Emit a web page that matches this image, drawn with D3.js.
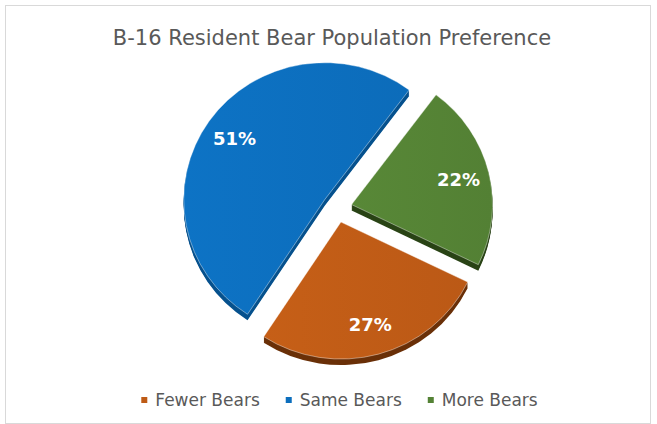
<!DOCTYPE html>
<html><head><meta charset="utf-8">
<script src="https://cdn.jsdelivr.net/npm/d3@7"></script>
<style>body{margin:0;background:#fff}</style></head><body>
<svg id="c" width="657" height="424"></svg>
<script>
const categories = ["Fewer Bears", "Same Bears", "More Bears"];
const values = [27, 51, 22];
const labels = ["27%", "51%", "22%"];
const colors = ["#BE5B16", "#0C6EBD", "#548235"];
const sideColors = ["#6a3008", "#07528e", "#2a4416"];
const title = "B-16 Resident Bear Population Preference";

const svg = d3.select("#c");
svg.append("rect").attr("x", 5.5).attr("y", 5.5).attr("width", 645).attr("height", 418)
  .attr("fill", "#fff").attr("stroke", "#d9d9d9").attr("stroke-width", 1);

svg.append("text").attr("x", 332).attr("y", 45).attr("text-anchor", "middle")
  .attr("font-family", "'DejaVu Sans'").attr("font-size", 21).attr("fill", "#595959")
  .text(title);

const rx = 141, ry = 137, cx = 337, cy = 208, explode = 15, depth = 6;
const k = ry / rx;
const startDeg = 116;
const toRad = Math.PI / 180;
const pie = d3.pie().sort(null).startAngle(startDeg * toRad).endAngle((startDeg + 360) * toRad);
const arcs = pie(values);
const arc = d3.arc().innerRadius(0).outerRadius(rx);

const defs = svg.append("defs");
arcs.forEach((a, i) => {
  const gr = defs.append("linearGradient").attr("id", "g" + i).attr("x1", "0").attr("x2", "1").attr("y1", "0").attr("y2", "0");
  const c = d3.color(colors[i]);
  gr.append("stop").attr("offset", "0").attr("stop-color", c.brighter(0.12));
  gr.append("stop").attr("offset", "1").attr("stop-color", c.darker(0.05));
});

function offset(a) {
  const mid = (a.startAngle + a.endAngle) / 2;
  return [explode * Math.sin(mid), -explode * Math.cos(mid) * k];
}

const sides = svg.append("g");
arcs.forEach((a, i) => {
  const [ox, oy] = offset(a);
  for (let d = depth; d >= 1; d--) {
    sides.append("path").attr("d", arc(a))
      .attr("transform", `translate(${cx + ox},${cy + oy + d}) scale(1,${k})`)
      .attr("fill", sideColors[i]);
  }
});

const faces = svg.append("g");
arcs.forEach((a, i) => {
  const [ox, oy] = offset(a);
  faces.append("path").attr("d", arc(a))
    .attr("transform", `translate(${cx + ox},${cy + oy}) scale(1,${k})`)
    .attr("fill", `url(#g${i})`)
    .attr("stroke", "rgba(255,255,255,0.45)").attr("stroke-width", 0.9)
    .attr("vector-effect", "non-scaling-stroke");
});

const labelR = 0.78 * rx;
arcs.forEach((a, i) => {
  const [ox, oy] = offset(a);
  const mid = (a.startAngle + a.endAngle) / 2;
  const x = cx + ox + labelR * Math.sin(mid);
  const y = cy + oy - labelR * Math.cos(mid) * k;
  svg.append("text").attr("x", x).attr("y", y).attr("dy", "0.35em")
    .attr("text-anchor", "middle").attr("font-family", "'DejaVu Sans'")
    .attr("font-weight", "bold").attr("font-size", 18).attr("fill", "#fff")
    .text(labels[i]);
});

// legend
const leg = svg.append("g");
let x = 0;
categories.forEach((c, i) => {
  const it = leg.append("g");
  it.append("rect").attr("x", 0).attr("y", -9).attr("width", 6).attr("height", 6).attr("fill", colors[i]);
  const t = it.append("text").attr("x", 14).attr("y", 0).attr("font-family", "'DejaVu Sans'")
    .attr("font-size", 17).attr("fill", "#595959").text(c);
  const w = 14 + t.node().getComputedTextLength();
  it.attr("transform", `translate(${x},0)`);
  x += w + 26;
});
const totalW = x - 26;
leg.attr("transform", `translate(${339.5 - totalW / 2},406)`);
</script>
</body></html>
